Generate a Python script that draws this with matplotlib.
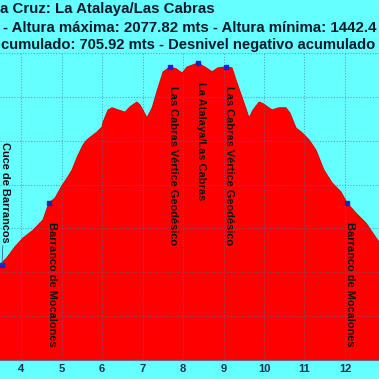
import numpy as np
import matplotlib
matplotlib.use('Agg')
import matplotlib.pyplot as plt

plt.rcParams['font.family'] = ['Liberation Sans', 'DejaVu Sans']

# perfil (km, metros)
km = [3.48, 3.65, 3.85, 4.05, 4.30, 4.54, 4.69, 4.84, 5.01, 5.14, 5.26, 5.38,
      5.53, 5.63, 5.88, 6.00, 6.03, 6.15, 6.25, 6.40, 6.57, 6.69, 6.86, 6.94,
      7.11, 7.24, 7.36, 7.51, 7.68, 7.83, 7.98, 8.10, 8.37, 8.54, 8.72, 8.86,
      9.06, 9.21, 9.33, 9.48, 9.63, 9.73, 9.88, 9.98, 10.20, 10.37, 10.54,
      10.64, 10.79, 10.94, 11.11, 11.28, 11.41, 11.48, 11.68, 11.90, 12.05,
      12.27, 12.52, 12.77, 12.84]
alt = [1617, 1633, 1658, 1678, 1696, 1719, 1758, 1769, 1797, 1815, 1833, 1861,
       1890, 1902, 1920, 1931, 1943, 1970, 1975, 1970, 1965, 1977, 1988, 1981,
       1952, 1975, 2013, 2057, 2068, 2064, 2054, 2068, 2077, 2068, 2057, 2066,
       2068, 2066, 2032, 1993, 1952, 1970, 1988, 1984, 1970, 1975, 1975,
       1963, 1929, 1918, 1902, 1879, 1849, 1833, 1804, 1783, 1758,
       1735, 1712, 1678, 1669]

# puntos de paso
wp_names = ['Cuce de Barrancos', 'Barranco de Mocalones', 'Las Cabras Vértice Geodésico',
            'La Atalaya/Las Cabras', 'Las Cabras Vértice Geodésico', 'Barranco de Mocalones']
wp_km = [3.53, 4.69, 7.68, 8.37, 9.06, 12.05]
wp_alt = [1617, 1758, 2068, 2077, 2068, 1758]

titulo = ['a Cruz: La Atalaya/Las Cabras',
          '- Altura máxima: 2077.82 mts - Altura mínima: 1442.4',
          'cumulado: 705.92 mts - Desnivel negativo acumulado']

fondo = '#66ffff'
fig = plt.figure(figsize=(3.79, 3.79), dpi=100, facecolor=fondo)
ax = fig.add_axes([0, 19 / 379, 1, (360 - 53) / 379])
ax.set_facecolor(fondo)

ax.fill_between(km, 1400, alt, color='#ff0000', lw=0, zorder=1)
ax.plot(km, alt, color='#e00000', lw=0.8, zorder=2)

ax.set_xlim(3.48, 12.84)
ax.set_ylim(1400, 2100)
ax.set_xticks(np.arange(4, 13, 1))
ax.set_yticks(np.arange(1400, 2101, 100))
ax.grid(True, color='#4a6ab0', alpha=0.6, lw=0.8, ls=(0, (1, 1.5)), zorder=3)
ax.tick_params(axis='x', length=0, pad=3, labelsize=8, labelcolor='#1a3050')
ax.tick_params(axis='y', length=0, labelleft=False)
for lab in ax.get_xticklabels():
    lab.set_fontweight('bold')
for s in ['left', 'right', 'top']:
    ax.spines[s].set_visible(False)
ax.spines['bottom'].set_color('#607080')
ax.spines['bottom'].set_linewidth(0.8)

ax.plot(wp_km, wp_alt, ls='none', marker='s', ms=2.5, color='#2020c0', zorder=4)
for i in range(len(wp_names)):
    if i == 0:
        ax.annotate(wp_names[i], (wp_km[i], wp_alt[i]), xytext=(3, 22),
                    textcoords='offset pixels', rotation=-90, ha='center', va='bottom',
                    fontsize=7.9, fontweight='bold', color='#101010', zorder=5,
                    arrowprops=dict(arrowstyle='-', color='#3a5aa0', lw=0.6,
                                    shrinkA=0, shrinkB=0))
    else:
        ax.annotate(wp_names[i], (wp_km[i], wp_alt[i]), xytext=(3, -19),
                    textcoords='offset pixels', rotation=-90, ha='center', va='top',
                    fontsize=7.9, fontweight='bold', color='#101010', zorder=5)

fig.text(0.5 / 379, 1 - 13.5 / 379, titulo[0], ha='left', va='baseline',
         fontsize=10.8, fontweight='bold', color='#0a1a2a')
fig.text(3 / 379, 1 - 32 / 379, titulo[1], ha='left', va='baseline',
         fontsize=10.8, fontweight='bold', color='#0a1a2a')
fig.text(1 / 379, 1 - 49 / 379, titulo[2], ha='left', va='baseline',
         fontsize=10.6, fontweight='bold', color='#0a1a2a')

fig.savefig('out.png', dpi=100, facecolor=fondo)
